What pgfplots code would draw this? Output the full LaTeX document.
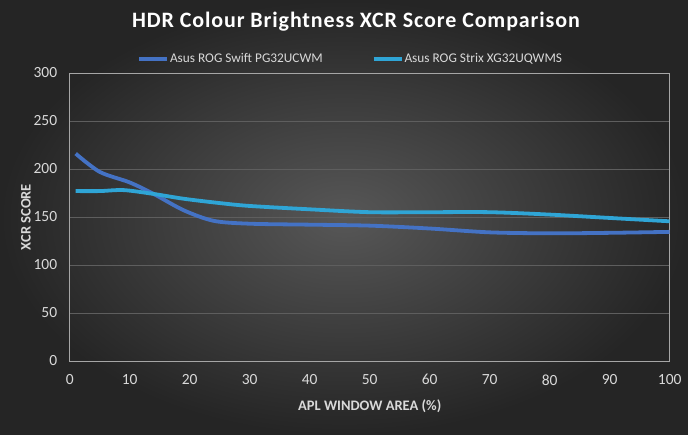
\documentclass[border=0pt]{standalone}
\usepackage{fontspec}
\setmainfont{Carlito}
\usepackage{pgfplots}
\pgfplotsset{compat=1.18}
\definecolor{bgin}{HTML}{575757}
\definecolor{bgout}{HTML}{252525}
\definecolor{swift}{HTML}{4472C4}
\definecolor{strix}{HTML}{2FA5D6}
\definecolor{txt}{HTML}{D9D9D9}
\definecolor{gridc}{HTML}{5E5E5E}
\definecolor{boxc}{HTML}{A6A6A6}
\begin{document}
\begin{tikzpicture}
\path[use as bounding box] (0pt,0pt) rectangle (688pt,435pt);
\shade[inner color=bgin, outer color=bgout] (0pt,0pt) rectangle (688pt,435pt);
\node[text=white, font=\bfseries\fontsize{22}{26}\selectfont, anchor=center] at (356pt,413pt) {\addfontfeature{LetterSpace=4}HDR Colour Brightness XCR Score Comparison};
\begin{axis}[
  at={(69.7pt,74pt)}, anchor=south west,
  scale only axis, width=600pt, height=288pt,
  xmin=0, xmax=100, ymin=0, ymax=300,
  xtick={0,10,...,100}, ytick={0,50,...,300},
  axis line style={boxc, line width=0.8pt},
  tick style={draw=none},
  ymajorgrids, grid style={gridc, line width=0.8pt},
  ticklabel style={text=txt, font=\fontsize{15.5}{18}\selectfont},
  /pgf/number format/assume math mode=true,
  xticklabel style={yshift=-10pt},
  yticklabel style={xshift=-9pt},
  xlabel={\textbf{APL WINDOW AREA (\%)}},
  ylabel={\textbf{XCR SCORE}},
  label style={text=txt, font=\fontsize{14.5}{17}\selectfont},
  xlabel style={yshift=-8pt},
  ylabel style={yshift=-4pt},
  legend columns=2,
  legend style={draw=none, fill=none, at={(0.1122,1.0485)}, anchor=west,
    text=txt, font=\fontsize{13.3}{16}\selectfont,
    /tikz/every even column/.append style={column sep=48pt},
    inner sep=0pt, nodes={inner sep=1pt}},
  legend image code/.code={\draw[#1] (0pt,0pt) -- (28pt,0pt);},
]
\addplot[swift, line width=3.8pt, smooth, tension=0.5] coordinates {
 (1,216) (5,197) (10,186) (14,174) (19,157) (24,146) (30,143) (40,142) (50,141)
 (60,138) (70,134) (80,133) (90,133.5) (100,134.5)};
\addlegendentry{Asus ROG Swift PG32UCWM}
\addplot[strix, line width=3.8pt, smooth, tension=0.5] coordinates {
 (1,177) (5,177) (9,178) (14,174) (19,169) (25,164.5) (30,161.5) (40,158) (50,155)
 (60,155) (70,155) (80,152.5) (90,149) (100,145.5)};
\addlegendentry{Asus ROG Strix XG32UQWMS}
\end{axis}
\end{tikzpicture}
\end{document}
